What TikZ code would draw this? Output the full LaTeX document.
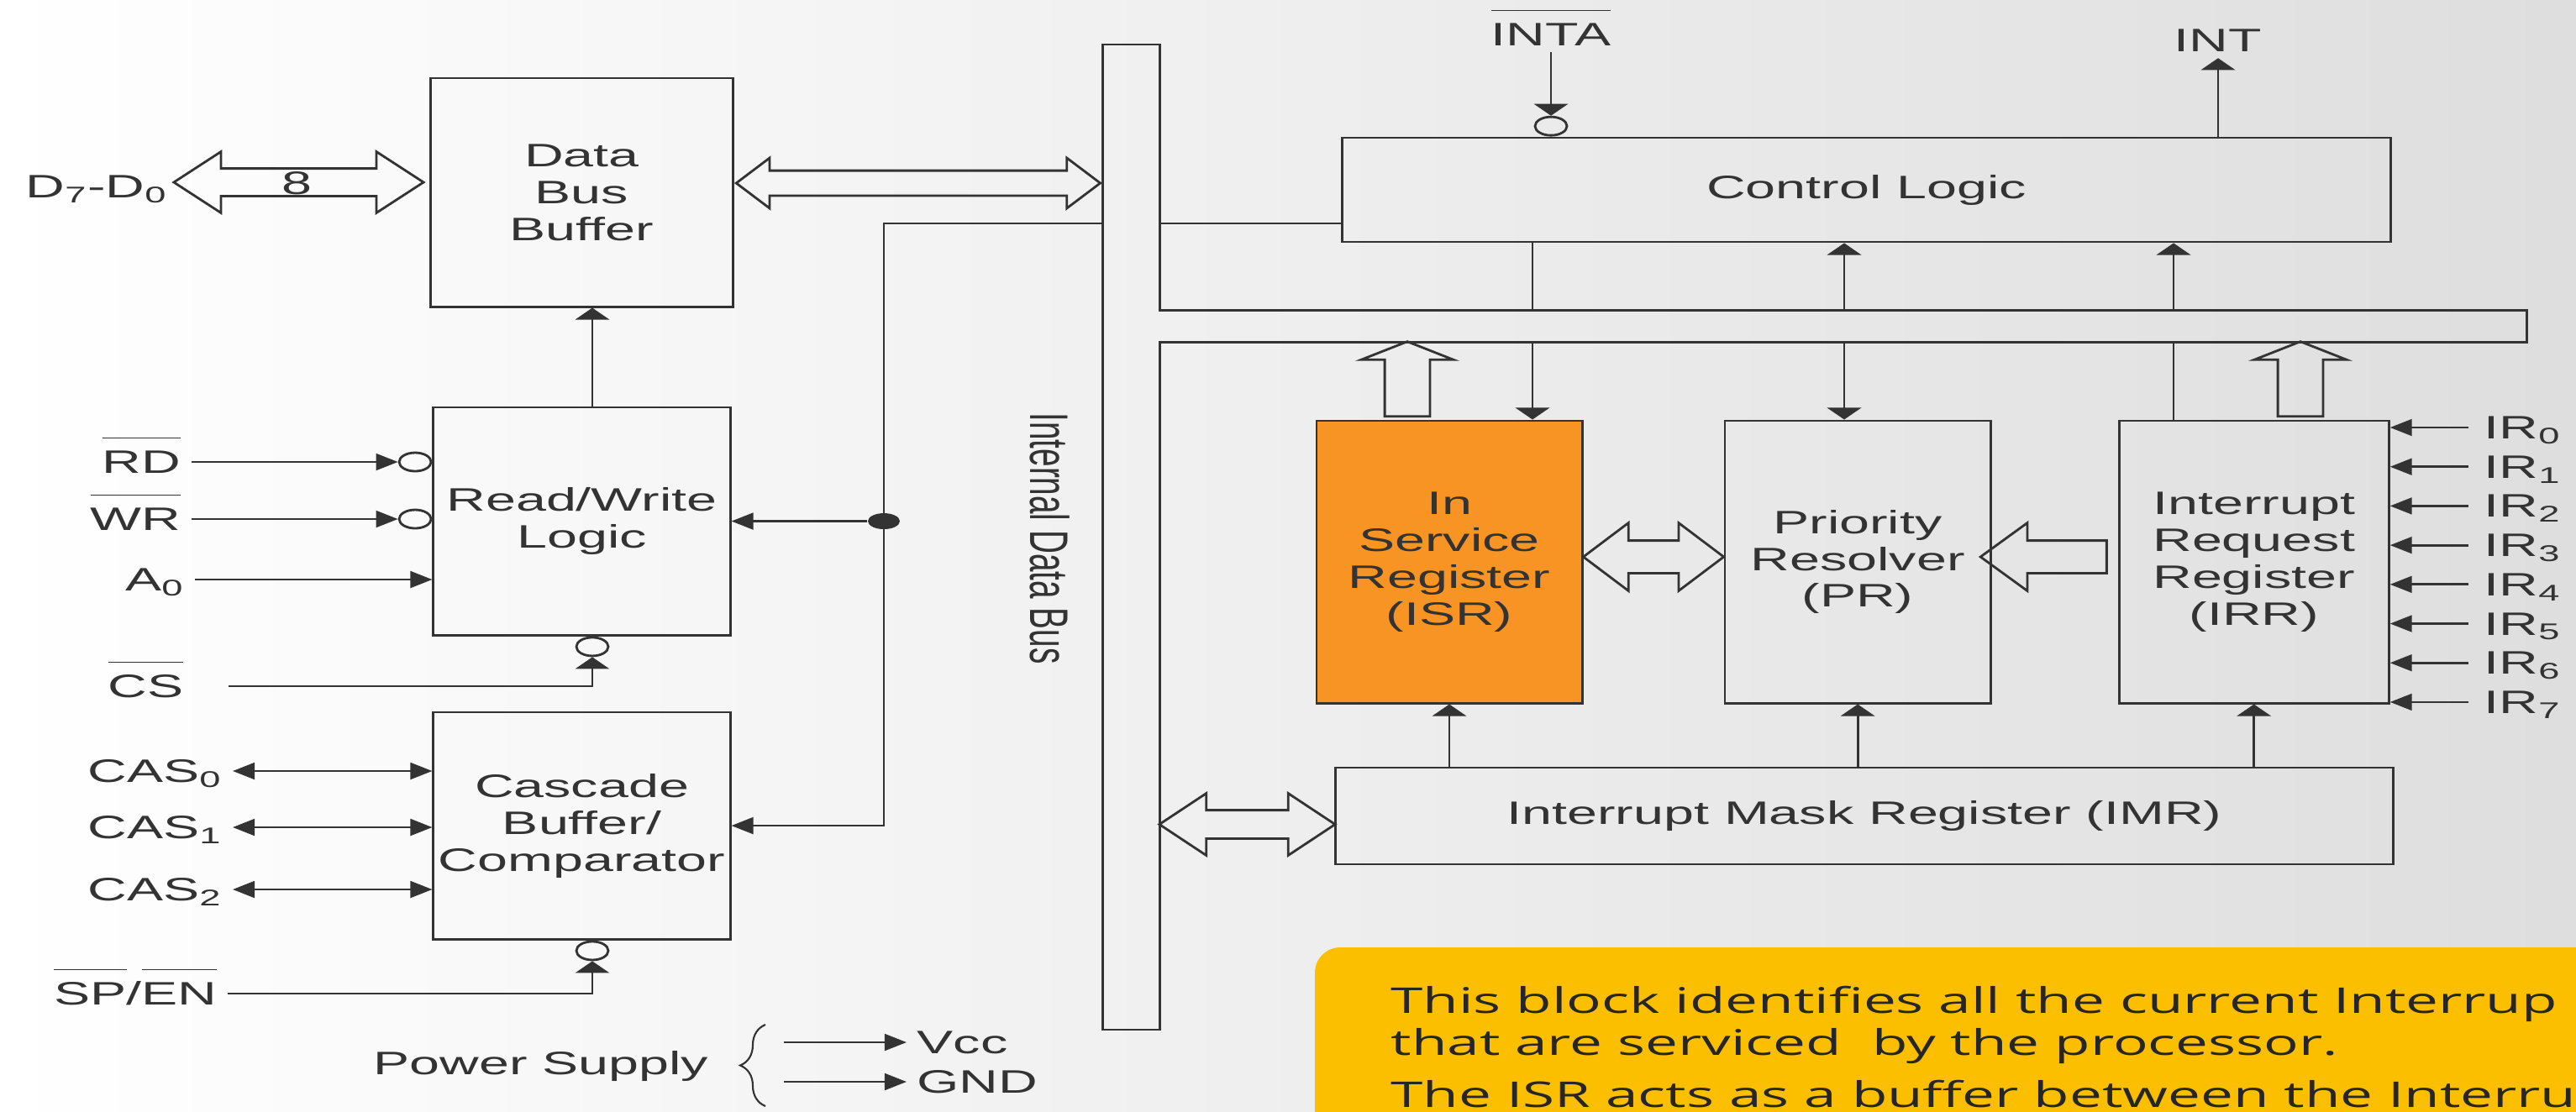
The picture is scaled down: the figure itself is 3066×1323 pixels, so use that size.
\documentclass[tikz,border=0pt]{standalone}
\usepackage{graphicx}
\usepackage{fontspec}
\setmainfont[FakeStretch=1.67]{Liberation Sans}
\newfontfamily\plainsf{Liberation Sans}
\newfontfamily\notefont[FakeStretch=1.64]{Open Sans}
\usepackage{tikz}
\usetikzlibrary{positioning,arrows.meta,shapes.geometric,shapes.arrows,calc,decorations.pathreplacing}

\definecolor{ink}{RGB}{51,51,51}
\definecolor{isrorange}{RGB}{247,148,36}
\definecolor{noteyellow}{RGB}{252,191,0}
\newcommand{\ovl}[1]{\ensuremath{\overline{\hbox{\rule{0pt}{10.5pt}#1}}}}

\begin{document}
\begin{tikzpicture}[
  x=0.01cm, y=-0.01cm,
  every node/.style={font=\fontsize{11}{12.5}\selectfont, text=ink},
  blk/.style={draw=ink, line width=0.8pt, align=center, inner sep=0pt},
  lbl/.style={inner xsep=0.12cm, inner ysep=0.07cm, text height=0.27cm, text depth=0pt},
  ln/.style={draw=ink, line width=0.8pt},
  harr/.style={ln, -{Triangle[length=7.4pt,width=5.6pt]}},
  varr/.style={ln, -{Triangle[length=4pt,width=11.5pt]}},
  darr/.style={ln, {Triangle[length=7.4pt,width=5.6pt]}-{Triangle[length=7.4pt,width=5.6pt]}},
  bub/.style={ellipse, draw=ink, line width=0.8pt, minimum width=0.38cm, minimum height=0.22cm, inner sep=0pt},
  dot/.style={ellipse, fill=ink, minimum width=0.38cm, minimum height=0.19cm, inner sep=0pt},
  hol/.style={draw=ink, line width=0.8pt, inner xsep=0pt, text height=0pt, text depth=0pt},
  dbus/.style={hol, double arrow},
  sbus/.style={hol, single arrow}]
  \useasboundingbox (0,0) rectangle (3066,1323);
  \clip (0,0) rectangle (3066,1323);
  \shade[left color=white, middle color=black!3, right color=black!13] (0,0) rectangle (3066,1323);

  % left column
  \node[blk, minimum width=3.59cm, minimum height=2.72cm] (dbb) at (692.5,229) {Data\\Bus\\Buffer};
  \node[blk, minimum width=3.53cm, minimum height=2.71cm, below=1.17cm of dbb] (rwl) {Read/Write\\Logic};
  \node[blk, minimum width=3.53cm, minimum height=2.70cm, below=0.89cm of rwl] (cas) {Cascade\\Buffer/\\Comparator};

  % internal bus
  \node[minimum width=0.67cm, minimum height=11.71cm, inner sep=0pt] (bus) at (1346.5,639.5) {};
  \node[minimum width=16.26cm, minimum height=0.37cm, inner sep=0pt] (hbar) at (2193,388.5) {};
  \draw[ln] (bus.north west) -- (bus.north east) -- (bus.east |- hbar.north) -- (hbar.north east)
    -- (hbar.south east) -- (bus.east |- hbar.south) -- (bus.south east) -- (bus.south west) -- cycle;
  \node[rotate=-90] (busname) at (1250,641) {\plainsf\scalebox{1}[1.67]{Internal Data Bus}};

  % right column
  \node[blk, minimum width=12.47cm, minimum height=1.24cm] (ctl) at (2221.5,226) {Control Logic};
  \node[blk, fill=isrorange, minimum width=3.16cm, minimum height=3.36cm] (isr) at (1725,669) {In\\Service\\Register\\(ISR)};
  \node[blk, minimum width=3.16cm, minimum height=3.36cm, right=1.67cm of isr] (pr) {Priority\\Resolver\\(PR)};
  \node[blk, minimum width=3.21cm, minimum height=3.36cm, right=1.5cm of pr] (irr) {Interrupt\\Request\\Register\\(IRR)};
  \node[blk, minimum width=12.58cm, minimum height=1.15cm] (imr) at (2219,971.5) {Interrupt Mask Register (IMR)};

  % data bus
  \node[lbl, anchor=east] (d70) at (212,222) {D\textsubscript{7}-D\textsubscript{0}};
  \node[dbus, minimum height=2.97cm, inner ysep=0.15cm, double arrow head extend=0.2cm, double arrow tip angle=66] (dbl) at (355.5,217) {};
  \node (eight) at (353,218) {8};
  \node[dbus, minimum height=4.33cm, inner ysep=0.135cm, double arrow head extend=0.15cm, double arrow tip angle=74] (dbr)
    at ($(dbb.east)!0.5!(bus.west |- dbb.east)+(0,-11)$) {};

  % read/write inputs
  \coordinate (xm) at (705,0);
  \node[lbl, anchor=east] (rd) at (228,550) {\ovl{RD}};
  \node[lbl, anchor=east] (wr) at (228,618) {\ovl{WR}};
  \node[lbl, anchor=east] (a0) at (232,690) {A\textsubscript{0}};
  \node[bub, anchor=east] (rdb) at (rwl.west |- rd.east) {};
  \node[bub, anchor=east] (wrb) at (rwl.west |- wr.east) {};
  \draw[harr] (rd.east) -- (rdb.west);
  \draw[harr] (wr.east) -- (wrb.west);
  \draw[harr] (a0.east) -- (rwl.west |- a0.east);
  \draw[varr] (xm |- rwl.north) -- (xm |- dbb.south);
  \node[lbl, anchor=east] (cs) at (231,817) {\ovl{CS}};
  \node[bub, anchor=north] (csb) at (xm |- rwl.south) {};
  \draw[varr] ([xshift=0.41cm]cs.east) -| (csb.south);

  % cascade
  \foreach \i/\y in {0/918,1/985,2/1059} {
    \node[lbl, anchor=east] (cas\i) at (277,\y) {CAS\textsubscript{\i}};
    \draw[darr] (cas\i.east) -- (cas.west |- cas\i.east);
  }
  \node[lbl, anchor=east] (spen) at (271,1183) {\ovl{SP}/\ovl{EN}};
  \node[bub, anchor=north] (spb) at (xm |- cas.south) {};
  \draw[varr] (spen.east) -| (spb.south);

  % bus tap
  \coordinate (tap) at (1052,266);
  \draw[harr] (bus.west |- tap) -- (tap) |- (cas.east);
  \node[dot] (jd) at (tap |- rwl.east) {};
  \draw[harr] (jd) -- (rwl.east);
  \draw[ln] (bus.east |- tap) -- (ctl.west |- tap);

  % control logic
  \node[lbl] (inta) at (1846,41) {\ovl{INTA}};
  \node[bub, anchor=south] (intab) at (inta |- ctl.north) {};
  \draw[varr] (inta.south) -- (intab.north);
  \node[lbl] (int) at (2640,48) {INT};
  \draw[varr] (int.south |- ctl.north) -- (int.south);
  \path (1824,0) coordinate (xa) (2195,0) coordinate (xb) (2587,0) coordinate (xc);
  \draw[ln] (xa |- ctl.south) -- (xa |- hbar.north);
  \draw[varr] (xa |- hbar.south) -- (xa |- isr.north);
  \draw[varr] (xb |- hbar.north) -- (xb |- ctl.south);
  \draw[varr] (xb |- hbar.south) -- (xb |- pr.north);
  \draw[varr] (xc |- hbar.north) -- (xc |- ctl.south);
  \draw[ln] (xc |- hbar.south) -- (xc |- irr.north);

  % register buses
  \node[sbus, rotate=90, minimum height=0.89cm, inner ysep=0.255cm, single arrow head extend=0.28cm, single arrow tip angle=137] (isrup) at (1675,456.5) {};
  \node[sbus, rotate=90, minimum height=0.89cm, inner ysep=0.255cm, single arrow head extend=0.28cm, single arrow tip angle=137] (irrup) at (2738,456.5) {};
  \node[dbus, minimum height=1.67cm, inner ysep=0.18cm, double arrow head extend=0.21cm, double arrow tip angle=74] (isrpr)
    at ($(isr.east)!0.5!(pr.west)+(0,-6)$) {};
  \node[sbus, rotate=180, minimum height=1.5cm, inner ysep=0.18cm, single arrow head extend=0.21cm, single arrow tip angle=72] (irrpr)
    at ($(pr.east)!0.5!(irr.west)+(0,-6)$) {};
  \node[dbus, minimum height=2.09cm, inner ysep=0.155cm, double arrow head extend=0.2cm, double arrow tip angle=67] (busimr)
    at ($(bus.east |- imr.west)!0.5!(imr.west)+(0,10)$) {};
  \foreach \b in {isr,pr,irr}
    \draw[varr] (imr.north -| \b.south) -- (\b.south);
  \foreach \i in {0,...,7} {
    \node[lbl, anchor=west, inner xsep=0.18cm] (ir\i) at (2938,{509+46.7*\i}) {IR\textsubscript{\i}};
    \draw[harr] (ir\i.west) -- (irr.east |- ir\i.west);
  }

  % power supply
  \node[lbl, anchor=east] (ps) at (856,1266) {Power Supply};
  \draw[ln, line width=0.6pt, decorate, decoration={brace, amplitude=0.3cm}] (911,1317) -- (911,1220);
  \node[lbl, anchor=west] (vcc) at (1079,1241) {Vcc};
  \node[lbl, anchor=west] (gnd) at (1079,1288) {GND};
  \coordinate (pv) at (933,1241);
  \coordinate (pg) at (933,1288);
  \draw[harr] (pv) -- (vcc.west);
  \draw[harr] (pg) -- (gnd.west);

  % note
  \fill[noteyellow, rounded corners=0.3cm] (1565,1128) rectangle (3200,1500);
  \node[anchor=base west, align=left, inner sep=0pt, font=\notefont\fontsize{12}{14.2}\selectfont, text=black!85] (note) at (1655,1318)
    {This block identifies all the current Interrup\\that are serviced~ by the processor.\\[0.12cm]The ISR acts as a buffer between the Interru};
\end{tikzpicture}
\end{document}
